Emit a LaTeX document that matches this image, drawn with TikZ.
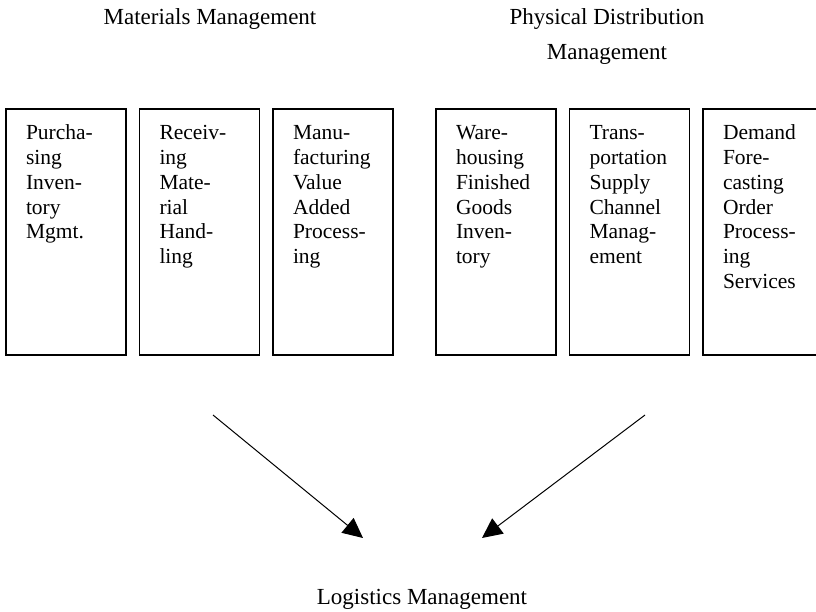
\documentclass[tikz,border=0pt]{standalone}
\usepackage{fontspec}
\setmainfont{Liberation Serif}
\usepackage{tikz}
\usetikzlibrary{arrows.meta, positioning}
\tikzstyle{area} = [rectangle, draw, line width=1.5pt, outer sep=0pt, text width=80pt, align=left, inner xsep=20pt, inner ysep=10pt, text height=21pt, text depth=205pt, font=\fontsize{21.5}{24.7}\selectfont]
\tikzstyle{heading} = [align=center, anchor=base, font=\fontsize{23}{35}\selectfont]
\tikzstyle{arrow} = [-{Triangle[length=20pt,width=19pt]}, line width=1pt]

\begin{document}
\begin{tikzpicture}[x=1pt, y=-1pt, node distance=13.5pt]
\useasboundingbox (0,0) rectangle (816,612);

\node[heading] (matmgmt) at (210,25) {Materials Management};
% base of a centred two-line node is its last line
\node[heading] (physdist) at (607,60) {Physical Distribution\\Management};

% materials side
\node[area, anchor=north west] (purch) at (6,109) {Purcha-\\sing\\Inven-\\tory\\Mgmt.};
\node[area, right=of purch] (recv) {Receiv-\\ing\\Mate-\\rial\\Hand-\\ling};
\node[area, right=of recv] (manuf) {Manu-\\facturing\\Value\\Added\\Process-\\ing};

% distribution side
\node[area, right=43pt of manuf] (wareh) {Ware-\\housing\\Finished\\Goods\\Inven-\\tory};
\node[area, right=of wareh] (transp) {Trans-\\portation\\Supply\\Channel\\Manag-\\ement};
\node[area, right=of transp] (demand) {Demand\\Fore-\\casting\\Order\\Process-\\ing\\Services};

\node[heading] (logmgmt) at (422,604) {Logistics Management};

\coordinate (matfrom) at (213,415);
\coordinate (matto) at (363,538);
\coordinate (physfrom) at (645,415);
\coordinate (physto) at (482,538);

\draw[arrow] (matfrom) -- (matto);
\draw[arrow] (physfrom) -- (physto);

\end{tikzpicture}
\end{document}
